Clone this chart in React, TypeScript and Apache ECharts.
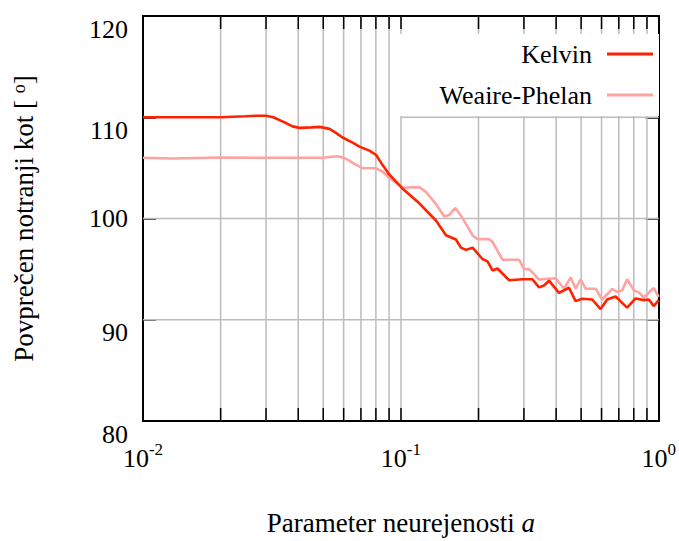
import React, { useEffect, useRef } from "react";
import * as echarts from "echarts";

// ---- data ----
const kelvinX = [0.01, 0.014, 0.02, 0.025, 0.0276, 0.03, 0.032, 0.0354, 0.038, 0.0405, 0.045, 0.0484, 0.0529, 0.056, 0.0594, 0.065, 0.0691, 0.0755, 0.0802, 0.0848, 0.0903, 0.1016, 0.1179, 0.1368, 0.1496, 0.1635, 0.171, 0.1787, 0.1896, 0.2072, 0.2167, 0.2266, 0.2369, 0.2629, 0.2959, 0.3235, 0.3434, 0.3591, 0.3754, 0.4104, 0.4486, 0.4761, 0.505, 0.552, 0.595, 0.631, 0.68, 0.754, 0.813, 0.875, 0.915, 0.956, 1.0];
const kelvinY = [110.0, 110.0, 110.0, 110.1, 110.15, 110.15, 110.0, 109.5, 109.1, 108.95, 109.0, 109.05, 108.85, 108.45, 108.0, 107.5, 107.1, 106.7, 106.27, 105.3, 104.33, 102.94, 101.5, 99.8, 98.35, 97.93, 97.12, 96.9, 97.12, 96.0, 95.77, 94.87, 95.06, 93.9, 94.0, 94.0, 93.2, 93.38, 93.87, 92.65, 93.16, 91.84, 92.07, 92.0, 91.06, 92.0, 92.3, 91.2, 92.1, 91.94, 92.0, 91.35, 91.94];

const wpX = [0.01, 0.013, 0.02, 0.0318, 0.0497, 0.054, 0.0568, 0.059, 0.0616, 0.066, 0.0712, 0.0802, 0.0848, 0.0903, 0.1016, 0.1179, 0.1252, 0.1368, 0.1474, 0.154, 0.1625, 0.171, 0.1896, 0.1982, 0.22, 0.2266, 0.2477, 0.2873, 0.3004, 0.3141, 0.3235, 0.3434, 0.3985, 0.4291, 0.4554, 0.4761, 0.4978, 0.5205, 0.569, 0.6035, 0.66, 0.69, 0.721, 0.754, 0.801, 0.837, 0.875, 0.956, 1.0];
const wpY = [106.0, 105.93, 106.02, 106.0, 106.0, 106.1, 106.15, 106.05, 105.86, 105.4, 104.96, 104.96, 104.64, 104.0, 103.03, 103.1, 102.62, 101.42, 100.2, 100.35, 101.03, 100.29, 98.35, 97.96, 97.96, 97.7, 95.93, 95.93, 95.0, 95.0, 94.68, 93.97, 94.1, 93.06, 94.19, 93.06, 94.0, 93.06, 93.06, 92.0, 93.06, 92.74, 92.9, 94.0, 92.9, 92.7, 92.2, 93.13, 92.26];

const seriesNames = ["Kelvin", "Weaire-Phelan"];
const minorXTicks = [0.02, 0.03, 0.04, 0.05, 0.06, 0.07, 0.08, 0.09, 0.2, 0.3, 0.4, 0.5, 0.6, 0.7, 0.8, 0.9];
// horizontal grid lines: [from x, y value, to x]
const hGridLines = [
  [0.01, 90, 1],
  [0.01, 100, 1],
  [0.1, 110, 1],
];
const yMin = 80;
const yMax = 120;
const yStep = 10;
const yCenteredLabel = 100; // this tick label sits centred on its tick in the original
const xMin = 0.01;
const xMax = 1;

const FONT = "Liberation Serif";
const GRID_COLOR = "#bcbcbc";

export default function App() {
  const ref = useRef<HTMLDivElement>(null);

  useEffect(() => {
    if (!ref.current) return;
    const chart = echarts.init(ref.current, null, { renderer: "svg" });

    const supLabel = (v: number) => {
      const e = Math.round(Math.log10(v));
      return `{b|10}{s|${e}}`;
    };

    const baseX = {
      type: "log",
      logBase: 10,
      min: xMin,
      max: xMax,
      axisLine: { show: true, lineStyle: { color: "#000", width: 2 } },
      axisTick: { show: true, inside: true, length: 13, lineStyle: { color: "#000", width: 1.5 } },
    };
    const baseY = {
      type: "value",
      min: yMin,
      max: yMax,
      interval: yStep,
      axisLine: { show: true, lineStyle: { color: "#000", width: 2 } },
      axisTick: { show: true, inside: true, length: 13, lineStyle: { color: "#000", width: 1.5 } },
      splitLine: { show: false },
    };
    const yLabelStyle = { fontFamily: FONT, fontSize: 26, color: "#000", lineHeight: 26 };

    chart.setOption({
      animation: false,
      backgroundColor: "#fff",
      grid: { left: 143, top: 16, right: 19, bottom: 111, containLabel: false },
      xAxis: [
        {
          ...baseX,
          position: "bottom",
          splitLine: { show: true, lineStyle: { color: GRID_COLOR, width: 1.5 } },
          axisLabel: {
            show: true,
            margin: 20,
            formatter: supLabel,
            rich: {
              b: { fontFamily: FONT, fontSize: 26, color: "#000", lineHeight: 34 },
              s: { fontFamily: FONT, fontSize: 17, color: "#000", lineHeight: 17, verticalAlign: "top" },
            },
          },
          name: "Parameter neurejenosti {i|a}",
          nameLocation: "middle",
          nameGap: 88,
          nameTextStyle: {
            fontFamily: FONT,
            fontSize: 27,
            color: "#000",
            rich: {
              i: { fontFamily: FONT, fontSize: 27, fontStyle: "italic", color: "#000" },
            },
          },
        },
        {
          ...baseX,
          position: "top",
          splitLine: { show: false },
          axisLabel: { show: false },
        },
      ],
      yAxis: [
        {
          ...baseY,
          position: "left",
          axisLabel: {
            show: true,
            margin: 15,
            ...yLabelStyle,
            verticalAlign: "top",
            formatter: (v: number) => (v === yCenteredLabel ? "" : String(v)),
          },
          name: "Povprečen notranji kot [ {sup|o}]",
          nameLocation: "middle",
          nameRotate: 90,
          nameGap: 106,
          nameTextStyle: {
            fontFamily: FONT,
            fontSize: 27,
            color: "#000",
            rich: {
              sup: { fontFamily: FONT, fontSize: 18, color: "#000", verticalAlign: "top", lineHeight: 18 },
            },
          },
        },
        {
          ...baseY,
          position: "right",
          axisLabel: { show: false },
        },
        {
          ...baseY,
          position: "left",
          axisLine: { show: false },
          axisTick: { show: false },
          axisLabel: {
            show: true,
            margin: 15,
            ...yLabelStyle,
            verticalAlign: "middle",
            formatter: (v: number) => (v === yCenteredLabel ? String(v) : ""),
          },
        },
      ],
      legend: [
        {
          data: [seriesNames[0]],
          right: 26,
          top: 41,
          orient: "vertical",
          align: "right",
          padding: 0,
          itemWidth: 46,
          itemHeight: 3,
          icon: "rect",
          z: 10,
          textStyle: { fontFamily: FONT, fontSize: 26, color: "#000", padding: [0, 10, 0, 0] },
        },
        {
          data: [seriesNames[1]],
          right: 26,
          top: 82,
          orient: "vertical",
          align: "right",
          padding: 0,
          itemWidth: 46,
          itemHeight: 3,
          icon: "rect",
          z: 10,
          textStyle: { fontFamily: FONT, fontSize: 26, color: "#000", padding: [0, 10, 0, 0] },
        },
      ],
      graphic: [
        {
          type: "rect",
          shape: { x: 398, y: 34, width: 261, height: 82 },
          style: { fill: "#fff" },
          z: 5,
          silent: true,
        },
      ],
      series: [
        {
          type: "custom",
          name: "minorGrid",
          coordinateSystem: "cartesian2d",
          silent: true,
          z: 1,
          data: minorXTicks.map((x) => [x, yMin]),
          renderItem: (_params: any, api: any) => {
            const x = api.value(0);
            const b = api.coord([x, yMin]);
            const t = api.coord([x, yMax]);
            return {
              type: "group",
              children: [
                { type: "line", shape: { x1: b[0], y1: b[1], x2: t[0], y2: t[1] }, style: { stroke: GRID_COLOR, lineWidth: 1.5 } },
                { type: "line", z2: 10, shape: { x1: b[0], y1: b[1], x2: b[0], y2: b[1] - 13 }, style: { stroke: "#000", lineWidth: 1.5 } },
                { type: "line", z2: 10, shape: { x1: t[0], y1: t[1], x2: t[0], y2: t[1] + 13 }, style: { stroke: "#000", lineWidth: 1.5 } },
              ],
            };
          },
        },
        {
          type: "custom",
          name: "hGrid",
          coordinateSystem: "cartesian2d",
          silent: true,
          z: 1,
          encode: { x: 0, y: 1 },
          data: hGridLines,
          renderItem: (_params: any, api: any) => {
            const p0 = api.coord([api.value(0), api.value(1)]);
            const p1 = api.coord([api.value(2), api.value(1)]);
            return {
              type: "line",
              shape: { x1: p0[0], y1: p0[1], x2: p1[0], y2: p1[1] },
              style: { stroke: GRID_COLOR, lineWidth: 1.5 },
            };
          },
        },
        {
          type: "line",
          name: seriesNames[0],
          data: kelvinX.map((x, i) => [x, kelvinY[i]]),
          symbol: "none",
          showSymbol: false,
          z: 3,
          itemStyle: { color: "#ff2200" },
          lineStyle: { color: "#ff2200", width: 2.6 },
        },
        {
          type: "line",
          name: seriesNames[1],
          data: wpX.map((x, i) => [x, wpY[i]]),
          symbol: "none",
          showSymbol: false,
          z: 2,
          itemStyle: { color: "#ffa2a2" },
          lineStyle: { color: "#ffa2a2", width: 2.6 },
        },
      ],
    });

    return () => chart.dispose();
  }, []);

  return <div ref={ref} style={{ width: 679, height: 541, position: "absolute", left: 0, top: 0 }} />;
}
